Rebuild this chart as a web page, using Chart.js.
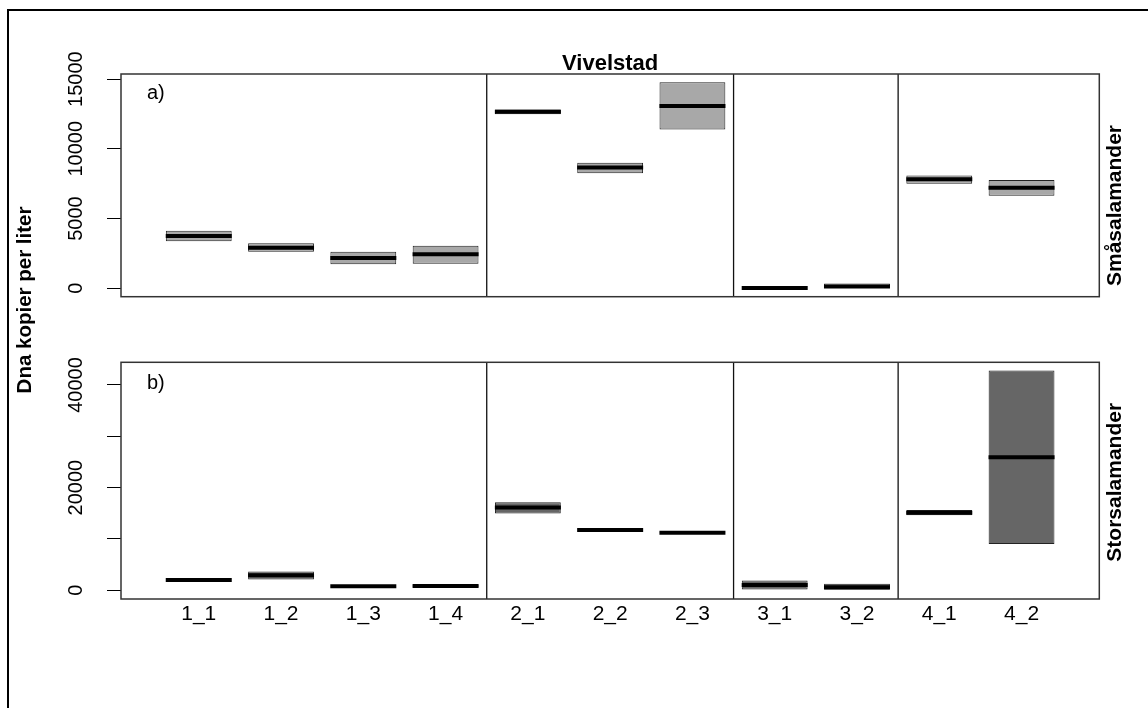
<!DOCTYPE html>
<html><head><meta charset="utf-8">
<script src="https://cdn.jsdelivr.net/npm/chart.js@4.4.1/dist/chart.umd.min.js"></script>
<style>
html,body{margin:0;padding:0;background:#fff;}
#wrap{position:relative;width:1148px;height:708px;overflow:hidden;background:#fff;}
canvas{position:absolute;left:0;top:0;}
</style></head><body>
<div id="wrap"><canvas id="cA" width="1148" height="708"></canvas><canvas id="cB" width="1148" height="708"></canvas></div>
<script>
// ---------- data ----------
const categories = ['1_1','1_2','1_3','1_4','2_1','2_2','2_3','3_1','3_2','4_1','4_2'];
// a) Småsalamander
const smaLow    = [3376, 2610, 1715, 1758, 12480, 8242, 11387, 0, 0, 7494, 6624];
const smaMedian = [3753, 2902, 2172, 2433, 12650, 8662, 13078, 10, 130, 7810, 7202];
const smaHigh   = [4130, 3218, 2610, 3054, 12820, 8997, 14776, 30, 330, 8084, 7756];
// b) Storsalamander
const storLow    = [1950, 2100, 760, 650, 14950, 11700, 11180, 150, 0, 14600, 9000];
const storMedian = [2000, 2920, 800, 850, 16140, 11750, 11230, 1030, 590, 15120, 25920];
const storHigh   = [2060, 3660, 840, 1050, 17170, 11800, 11280, 1900, 1260, 15650, 42840];
// ticks
const yTicksA = [0, 5000, 10000, 15000];
const yTickLabelsA = ['0', '5000', '10000', '15000'];
const yTicksB = [0, 10000, 20000, 30000, 40000];
const yTickLabelsB = ['0', '', '20000', '', '40000'];
const yRangeA = [-608, 15365];
const yRangeB = [-1695, 44420];
const xRange = [0.055, 11.945];
const mainTitle = 'Vivelstad';
const yTitle = 'Dna kopier per liter';
const stripA = 'Småsalamander';
const stripB = 'Storsalamander';

// group separators derived from category prefixes
const groupBreaks = [];
for (let i = 1; i < categories.length; i++) {
  if (categories[i].split('_')[0] !== categories[i - 1].split('_')[0]) groupBreaks.push(i + 0.5);
}

Chart.defaults.font.family = "'Liberation Sans', Arial, sans-serif";
Chart.defaults.color = '#000';

const framePlugin = {
  id: 'frame',
  afterDatasetsDraw(chart) {
    const {ctx, chartArea: a} = chart;
    const xs = chart.scales.x;
    ctx.save();
    ctx.strokeStyle = '#111';
    ctx.lineWidth = 1.3;
    groupBreaks.forEach(b => {
      const px = xs.getPixelForValue(b);
      ctx.beginPath(); ctx.moveTo(px, a.top); ctx.lineTo(px, a.bottom); ctx.stroke();
    });
    ctx.strokeStyle = '#333';
    ctx.lineWidth = 1.5;
    ctx.strokeRect(a.left, a.top, a.right - a.left, a.bottom - a.top);
    ctx.restore();
  }
};

const textPlugin = {
  id: 'texts',
  afterDraw(chart) {
    const ctx = chart.ctx;
    const a = chart.chartArea;
    ctx.save();
    // outer figure frame (left + top)
    ctx.strokeStyle = '#000'; ctx.lineWidth = 2;
    ctx.beginPath(); ctx.moveTo(8, 708); ctx.lineTo(8, 10); ctx.lineTo(1148, 10); ctx.stroke();
    ctx.fillStyle = '#000';
    // main title
    ctx.font = "bold 22px 'Liberation Sans', Arial, sans-serif";
    ctx.textAlign = 'center'; ctx.textBaseline = 'alphabetic';
    ctx.fillText(mainTitle, (a.left + a.right) / 2, 69.5);
    // panel letters
    ctx.font = "20px 'Liberation Sans', Arial, sans-serif";
    ctx.textAlign = 'left';
    ctx.fillText('a)', 147, 99);
    ctx.fillText('b)', 147, 388.5);
    // rotated texts
    const rot = (txt, x, y, font) => {
      ctx.save(); ctx.translate(x, y); ctx.rotate(-Math.PI / 2);
      ctx.font = font; ctx.textAlign = 'center'; ctx.textBaseline = 'alphabetic';
      ctx.fillText(txt, 0, 0); ctx.restore();
    };
    rot(yTitle, 31, 300, "bold 20.5px 'Liberation Sans', Arial, sans-serif");
    rot(stripA, 1121, 205.5, "bold 21px 'Liberation Sans', Arial, sans-serif");
    rot(stripB, 1121, 482.3, "bold 21px 'Liberation Sans', Arial, sans-serif");
    ctx.restore();
  }
};

function makeChart(id, low, med, high, fill, yRange, yTicks, yLabels, showX, padding, plugins) {
  const boxData = categories.map((c, i) => ({x: i + 1, y: [low[i], high[i]]}));
  const medData = categories.map((c, i) => ({x: i + 1, y: med[i]}));
  return new Chart(document.getElementById(id), {
    type: 'bar',
    data: {
      datasets: [
        {
          type: 'bar', data: boxData, order: 1,
          backgroundColor: fill, borderColor: '#222', borderWidth: 1, borderSkipped: false,
          categoryPercentage: 0.8, barPercentage: 1.0
        },
        {
          type: 'line', data: medData, order: 0, showLine: false,
          pointStyle: 'line', pointRadius: 33, pointHoverRadius: 33,
          pointBorderWidth: 4, pointBorderColor: '#000', pointBackgroundColor: '#000'
        }
      ]
    },
    options: {
      responsive: false, animation: false, devicePixelRatio: 1,
      layout: {padding: padding},
      plugins: {legend: {display: false}, tooltip: {enabled: false}, title: {display: false}},
      events: [],
      scales: {
        x: {
          type: 'linear', min: xRange[0], max: xRange[1], bounds: 'data', offset: false,
          display: showX,
          afterBuildTicks: s => { s.ticks = categories.map((c, i) => ({value: i + 1})); },
          afterFit: s => { s.height = 40; },
          grid: {display: false, drawTicks: false, offset: false},
          border: {display: false},
          ticks: {
            autoSkip: false, maxRotation: 0, minRotation: 0, padding: 3,
            color: '#000', font: {size: 21},
            callback: v => categories[Math.round(v) - 1] || ''
          }
        },
        y: {
          type: 'linear', min: yRange[0], max: yRange[1], bounds: 'data',
          afterBuildTicks: s => { s.ticks = yTicks.map(v => ({value: v})); },
          afterFit: s => { s.width = 121; },
          grid: {display: true, drawOnChartArea: false, drawTicks: true, tickLength: 14, color: '#000', lineWidth: 1},
          border: {display: false},
          ticks: {
            minRotation: 90, maxRotation: 90, crossAlign: 'center', padding: 3,
            color: '#000', font: {size: 20},
            callback: v => { const k = yTicks.indexOf(v); return k >= 0 ? yLabels[k] : ''; }
          }
        }
      }
    },
    plugins: plugins
  });
}

makeChart('cA', smaLow, smaMedian, smaHigh, '#A8A8A8', yRangeA, yTicksA, yTickLabelsA, false,
  {left: 0, top: 74, right: 48.7, bottom: 708 - 336.7}, [framePlugin, textPlugin]);
makeChart('cB', storLow, storMedian, storHigh, '#666666', yRangeB, yTicksB, yTickLabelsB, true,
  {left: 0, top: 362.3, right: 48.7, bottom: 708 - 599 - 40}, [framePlugin]);
</script>
</body></html>
